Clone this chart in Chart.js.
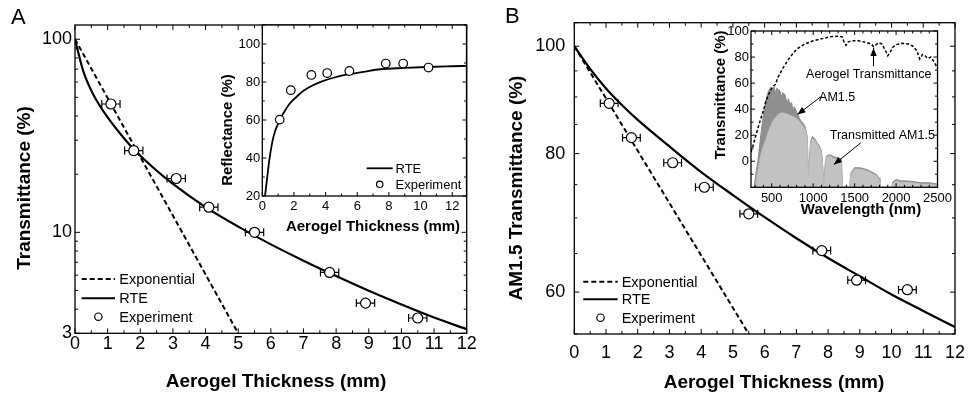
<!DOCTYPE html>
<html>
<head>
<meta charset="utf-8">
<script src="https://cdn.jsdelivr.net/npm/chart.js@4.4.1/dist/chart.umd.min.js"></script>
<style>
  html, body { margin: 0; padding: 0; background: #fff; }
  body { position: relative; width: 973px; height: 397px; overflow: hidden; font-family: "Liberation Sans", Arial, sans-serif; }
  canvas { position: absolute; }
  .letter { position: absolute; font-size: 22px; line-height: 22px; color: #000; }
</style>
</head>
<body>
<canvas id="mainA" width="486" height="397" style="left:0;top:0"></canvas>
<canvas id="mainB" width="487" height="397" style="left:486px;top:0"></canvas>
<canvas id="insetA" width="262" height="245" style="left:210px;top:0"></canvas>
<canvas id="insetB" width="255" height="225" style="left:700px;top:0"></canvas>
<div class="letter" style="left:11px;top:6px">A</div>
<div class="letter" style="left:505px;top:5px">B</div>
<script>
'use strict';

const FONT = '"Liberation Sans", Arial, sans-serif';

// measured samples (thickness in mm)
const thickness = [1.1, 1.8, 3.1, 4.1, 5.5, 7.8, 8.9, 10.5];
const thicknessErr = [0.28, 0.28, 0.28, 0.28, 0.28, 0.28, 0.28, 0.28];

// panel A: spectral transmittance (log axis)
const transA = [46.2, 26.5, 19.0, 13.5, 10.0, 6.2, 4.3, 3.6];
const rteAx = [0, 0.25, 0.5, 0.75, 1.0, 1.4, 1.8, 2.4, 3.0, 4.0, 5.0, 6.0, 7.0, 7.8, 9.0, 10.0, 11.0, 12.0];
const rteAy = [100, 68.7, 54.2, 45.5, 39.4, 32.2, 26.9, 21.6, 17.8, 13.5, 10.7, 8.66, 7.13, 6.15, 4.98, 4.23, 3.62, 3.15];
const expAx = [0, 5];
const expAy = [100, 3];

// panel A inset: reflectance
const reflY = [60.2, 75.7, 83.7, 84.7, 85.8, 89.7, 89.7, 87.6];
const rteReflX = [0.17, 0.3, 0.44, 0.7, 1.08, 1.4, 1.71, 2.2, 2.6, 3.2, 3.86, 4.6, 5.44, 6.5, 7.45, 9, 10.4, 12, 12.9];
const rteReflY = [20, 29, 38.8, 51, 59.7, 64.5, 68.4, 72.5, 75.4, 78.3, 80.6, 82.5, 84, 85.5, 86.7, 87.4, 87.9, 88.3, 88.5];

// panel B: AM1.5 transmittance (log axis)
const transB = [88.8, 82.7, 78.5, 74.6, 70.6, 65.4, 61.5, 60.3];
const rteBx = [0, 0.5, 1, 1.5, 2, 3, 4, 5, 6, 7, 8, 9, 10, 11, 12];
const rteBy = [100, 95.4, 91.6, 88.5, 85.8, 81.2, 77.0, 73.4, 70.1, 67.1, 64.4, 62.0, 59.7, 57.7, 55.8];
const expBx = [0, 5.5];
const expBy = [100, 55];

// panel B inset: spectra vs wavelength (nm)
const aeroWl = [250, 275, 300, 350, 400, 430, 460, 500, 544, 580, 640, 700, 760, 811, 900, 1000, 1100, 1200, 1300, 1350, 1375, 1395, 1420, 1460, 1550, 1650, 1700, 1730, 1760, 1790, 1830, 1870, 1900, 1930, 1960, 2000, 2070, 2150, 2200, 2250, 2285, 2320, 2350, 2380, 2420, 2460, 2500];
const aeroT = [7, 12, 18, 29, 39, 46, 51, 56, 59, 65, 72, 78, 83, 86.5, 90, 92.5, 94, 95.5, 96, 95.5, 91, 89, 91.5, 92.5, 92.5, 91, 90, 88, 89.5, 91, 90, 85, 81, 84, 87.5, 89.5, 90.5, 90, 88.5, 85, 78.5, 82, 81, 79, 80, 76, 71.5];

const am15Wl = [290, 300, 320, 335, 350, 372, 390, 410, 430, 450, 470, 490, 500, 510, 530, 545, 560, 580, 600, 615, 630, 660, 687, 700, 720, 740, 760, 770, 800, 820, 850, 880, 900, 915, 930, 940, 955, 970, 990, 1020, 1050, 1080, 1100, 1115, 1130, 1145, 1160, 1200, 1250, 1300, 1340, 1355, 1440, 1455, 1500, 1560, 1600, 1650, 1700, 1760, 1795, 1805, 1950, 1960, 2000, 2050, 2100, 2200, 2300, 2400, 2500];
const am15 = [-20, -14, -5, 1, 10, 22, 31, 40, 47, 52, 55, 57, 51, 56, 57, 52, 56, 55, 54, 49, 53, 51, 44, 48, 44, 45, 37, 42, 38, 35, 31, 29, 27, 23, 18, -12, 2, 15, 19, 17, 14, 11, 8, -4, -18, -2, 4, 5, 3.5, 2.5, 1.5, -20, -20, -9, -5, -5, -5.5, -6.5, -8, -10, -13, -20, -20, -16, -14, -15, -15, -15.5, -16.5, -16.5, -17.5];

const transAmWl = [300, 320, 340, 355, 380, 400, 430, 460, 487, 515, 544, 570, 600, 650, 700, 750, 800, 830, 860, 890, 915, 930, 940, 955, 970, 990, 1020, 1050, 1080, 1100, 1115, 1130, 1145, 1160, 1200, 1250, 1300, 1340, 1355, 1440, 1455, 1500, 1560, 1600, 1650, 1700, 1760, 1795, 1805, 1950, 1960, 2000, 2050, 2100, 2200, 2300, 2400, 2500];
const transAm = [-20, -12, -5, 1, 8, 12, 17, 23, 27, 31, 33.5, 35.5, 37, 37, 36, 34.5, 33, 31, 28.5, 26.5, 22, 17, -13, 1, 14, 17.5, 16, 13, 10, 7, -5, -19, -3, 3, 4, 2.5, 1.5, 0.5, -20, -20, -10, -6, -6, -6.5, -7.5, -9, -11, -14, -20, -20, -17, -15, -16, -16, -16.5, -17.5, -17.5, -18.5];

// tick values
const thickTicks = [0, 1, 2, 3, 4, 5, 6, 7, 8, 9, 10, 11, 12];
const thickMinor = [0.5, 1.5, 2.5, 3.5, 4.5, 5.5, 6.5, 7.5, 8.5, 9.5, 10.5, 11.5];
const transATicks = [3, 10, 100];
const transAMinor = [4, 5, 6, 7, 8, 9, 20, 30, 40, 50, 60, 70, 80, 90];
const transBTicks = [60, 80, 100];
const transBMinor = [55, 65, 70, 75, 85, 90, 95, 105];
const reflXTicks = [0, 2, 4, 6, 8, 10, 12];
const reflXMinor = [1, 3, 5, 7, 9, 11];
const reflYTicks = [20, 40, 60, 80, 100];
const reflYMinor = [30, 50, 70, 90, 110];
const wlTicks = [500, 1000, 1500, 2000, 2500];
const wlMinor = [300, 400, 600, 700, 800, 900, 1100, 1200, 1300, 1400, 1600, 1700, 1800, 1900, 2100, 2200, 2300, 2400];
const specTicks = [0, 20, 40, 60, 80, 100];
const specMinor = [-10, 10, 30, 50, 70, 90];

function pts(xs, ys) {
    return xs.map(function (v, i) { return {x: v, y: ys[i]}; });
}

function arrowTo(ctx, x0, y0, x1, y1) {
    let ang = Math.atan2(y1 - y0, x1 - x0);
    ctx.beginPath();
    ctx.moveTo(x0, y0);
    ctx.lineTo(x1, y1);
    ctx.stroke();
    ctx.beginPath();
    ctx.moveTo(x1, y1);
    ctx.lineTo(x1 - 8 * Math.cos(ang) + 3.2 * Math.sin(ang), y1 - 8 * Math.sin(ang) - 3.2 * Math.cos(ang));
    ctx.lineTo(x1 - 8 * Math.cos(ang) - 3.2 * Math.sin(ang), y1 - 8 * Math.sin(ang) + 3.2 * Math.cos(ang));
    ctx.closePath();
    ctx.fill();
}

// frame, inward ticks, error bars, legends, titles and notes
const deco = {
    id: 'deco',
    beforeDatasetsDraw: function (chart, args, o) {
        let ctx = chart.ctx, a = chart.chartArea, x = chart.scales.x, y = chart.scales.y;
        ctx.save();
        if (o.fill) {
            ctx.fillStyle = '#fff';
            ctx.fillRect(a.left, a.top, a.right - a.left, a.bottom - a.top);
        }
        if (o.err) {
            ctx.strokeStyle = '#000';
            ctx.lineWidth = 1.2;
            o.err.xs.forEach(function (xv, i) {
                let e = o.err.dx[i],
                    py = y.getPixelForValue(o.err.ys[i]),
                    p0 = x.getPixelForValue(xv - e),
                    p1 = x.getPixelForValue(xv + e);
                ctx.beginPath();
                ctx.moveTo(p0, py); ctx.lineTo(p1, py);
                ctx.moveTo(p0, py - 4); ctx.lineTo(p0, py + 4);
                ctx.moveTo(p1, py - 4); ctx.lineTo(p1, py + 4);
                ctx.stroke();
            });
        }
        ctx.restore();
    },
    afterDraw: function (chart, args, o) {
        let ctx = chart.ctx, a = chart.chartArea, x = chart.scales.x, y = chart.scales.y;
        ctx.save();
        ctx.strokeStyle = '#000';
        ctx.fillStyle = '#000';
        ctx.lineWidth = 1.3;
        ctx.strokeRect(a.left, a.top, a.right - a.left, a.bottom - a.top);

        ctx.lineWidth = 1;
        let xt = function (vals, len) {
            vals.forEach(function (v) {
                let p = x.getPixelForValue(v);
                if (p < a.left - 0.5 || p > a.right + 0.5) return;
                ctx.beginPath();
                ctx.moveTo(p, a.bottom); ctx.lineTo(p, a.bottom - len);
                ctx.moveTo(p, a.top); ctx.lineTo(p, a.top + len);
                ctx.stroke();
            });
        };
        let yt = function (vals, len) {
            vals.forEach(function (v) {
                let p = y.getPixelForValue(v);
                if (p < a.top - 0.5 || p > a.bottom + 0.5) return;
                ctx.beginPath();
                ctx.moveTo(a.left, p); ctx.lineTo(a.left + len, p);
                ctx.moveTo(a.right, p); ctx.lineTo(a.right - len, p);
                ctx.stroke();
            });
        };
        xt(o.ticks.x, o.ticks.major);
        xt(o.ticks.xm, o.ticks.minor);
        yt(o.ticks.y, o.ticks.major);
        yt(o.ticks.ym, o.ticks.minor);

        (o.titles || []).forEach(function (t) {
            ctx.save();
            ctx.font = 'bold ' + t.size + 'px ' + FONT;
            ctx.textAlign = 'center';
            ctx.textBaseline = 'middle';
            ctx.translate(t.x, t.y);
            if (t.rot) ctx.rotate(-Math.PI / 2);
            ctx.fillText(t.text, 0, 0);
            ctx.restore();
        });

        if (o.legend) {
            let L = o.legend;
            ctx.font = L.size + 'px ' + FONT;
            ctx.textAlign = 'left';
            ctx.textBaseline = 'middle';
            L.rows.forEach(function (r) {
                ctx.save();
                if (r.kind === 'dot') {
                    ctx.lineWidth = 1.2;
                    ctx.fillStyle = '#fff';
                    ctx.beginPath();
                    ctx.arc((L.x0 + L.x1) / 2, r.y, L.r, 0, Math.PI * 2);
                    ctx.fill();
                    ctx.stroke();
                } else {
                    ctx.lineWidth = L.lw;
                    if (r.kind === 'dash') ctx.setLineDash([5, 3]);
                    ctx.beginPath();
                    ctx.moveTo(L.x0, r.y); ctx.lineTo(L.x1, r.y);
                    ctx.stroke();
                }
                ctx.restore();
                ctx.fillText(r.text, L.tx, r.y + 1);
            });
        }

        if (o.notes) {
            ctx.font = o.notes.size + 'px ' + FONT;
            ctx.textAlign = 'center';
            ctx.textBaseline = 'middle';
            o.notes.texts.forEach(function (t) {
                ctx.fillText(t.text, x.getPixelForValue(t.x), y.getPixelForValue(t.y));
            });
            ctx.lineWidth = 1;
            o.notes.arrows.forEach(function (r) {
                arrowTo(ctx, x.getPixelForValue(r.x0), y.getPixelForValue(r.y0),
                    x.getPixelForValue(r.x1), y.getPixelForValue(r.y1));
            });
        }
        ctx.restore();
    }
};

function axis(type, min, max, labels, size, pad, fixed, horiz) {
    return {
        type: type,
        min: min,
        max: max,
        grid: {display: false, drawTicks: false},
        border: {display: false},
        ticks: {
            font: {family: FONT, size: size},
            color: '#000',
            padding: pad,
            autoSkip: false,
            maxRotation: 0,
            minRotation: 0,
            callback: function (v) { return String(v); }
        },
        afterBuildTicks: function (s) {
            s.ticks = labels.map(function (v) { return {value: v}; });
        },
        afterFit: function (s) {
            if (horiz) s.height = fixed; else s.width = fixed;
        }
    };
}

function line(data, width, dash, mono) {
    return {
        data: data,
        borderColor: '#000',
        borderWidth: width,
        borderDash: dash,
        pointRadius: 0,
        fill: false,
        cubicInterpolationMode: mono ? 'monotone' : 'default'
    };
}

function dots(data, r) {
    return {
        data: data,
        showLine: false,
        pointRadius: r,
        pointBackgroundColor: '#fff',
        pointBorderColor: '#000',
        pointBorderWidth: 1.2
    };
}

function base(datasets, scales, pad, decoOpts) {
    return {
        type: 'line',
        data: {datasets: datasets},
        options: {
            responsive: false,
            animation: false,
            events: [],
            layout: {padding: pad},
            scales: scales,
            plugins: {legend: {display: false}, tooltip: {enabled: false}, deco: decoOpts}
        },
        plugins: [deco]
    };
}

// Panel A
new Chart(document.getElementById('mainA'), base(
    [dots(pts(thickness, transA), 5),
     line(pts(rteAx, rteAy), 2.2, [], true),
     line(pts(expAx, expAy), 2, [5, 3], false)],
    {
        x: axis('linear', 0, 12, thickTicks, 18, 0, 63.7, true),
        y: axis('logarithmic', 3, 118.5, transATicks, 18, 3, 75, false)
    },
    {left: 0, top: 25, right: 19.3, bottom: 0},
    {
        ticks: {x: thickTicks, xm: thickMinor, y: transATicks, ym: transAMinor, major: 5, minor: 3},
        err: {xs: thickness, ys: transA, dx: thicknessErr},
        titles: [
            {text: 'Aerogel Thickness (mm)', x: 276, y: 382, size: 19},
            {text: 'Transmittance (%)', x: 25, y: 188, size: 19, rot: true}
        ],
        legend: {x0: 81.7, x1: 115, tx: 119.3, size: 14.5, lw: 2, r: 3.7, rows: [
            {kind: 'dash', y: 279, text: 'Exponential'},
            {kind: 'line', y: 298.3, text: 'RTE'},
            {kind: 'dot', y: 316.7, text: 'Experiment'}
        ]}
    }
));

// Panel A inset
new Chart(document.getElementById('insetA'), base(
    [dots(pts(thickness, reflY), 4.3),
     line(pts(rteReflX, rteReflY), 1.8, [], true)],
    {
        x: axis('linear', 0, 12.9, reflXTicks, 13, 3, 49, true),
        y: axis('linear', 20, 110, reflYTicks, 13, 2, 52.3, false)
    },
    {left: 0, top: 25, right: 5.3, bottom: 0},
    {
        fill: true,
        ticks: {x: reflXTicks, xm: reflXMinor, y: reflYTicks, ym: reflYMinor, major: 4, minor: 2.5},
        titles: [
            {text: 'Aerogel Thickness (mm)', x: 163, y: 227, size: 15},
            {text: 'Reflectance (%)', x: 18, y: 130, size: 15, rot: true}
        ],
        legend: {x0: 156.7, x1: 182.7, tx: 185.5, size: 13, lw: 1.8, r: 3.2, rows: [
            {kind: 'line', y: 168.3, text: 'RTE'},
            {kind: 'dot', y: 184.3, text: 'Experiment'}
        ]}
    }
));

// Panel B
new Chart(document.getElementById('mainB'), base(
    [dots(pts(thickness, transB), 5),
     line(pts(rteBx, rteBy), 2.2, [], true),
     line(pts(expBx, expBy), 2, [5, 3], false)],
    {
        x: axis('linear', 0, 12, thickTicks, 18, 8, 63, true),
        y: axis('logarithmic', 55, 105, transBTicks, 18, 9, 88.3, false)
    },
    {left: 0, top: 22.7, right: 12, bottom: 0},
    {
        ticks: {x: thickTicks, xm: thickMinor, y: transBTicks, ym: transBMinor, major: 5, minor: 3},
        err: {xs: thickness, ys: transB, dx: thicknessErr},
        titles: [
            {text: 'Aerogel Thickness (mm)', x: 288, y: 383, size: 19},
            {text: 'AM1.5 Transmittance (%)', x: 30.7, y: 188, size: 19, rot: true}
        ],
        legend: {x0: 97.3, x1: 131.7, tx: 135.7, size: 14.5, lw: 2, r: 3.7, rows: [
            {kind: 'dash', y: 281.7, text: 'Exponential'},
            {kind: 'line', y: 299.3, text: 'RTE'},
            {kind: 'dot', y: 317.7, text: 'Experiment'}
        ]}
    }
));

// Panel B inset
let specSets = [
    line(pts(aeroWl, aeroT), 1.5, [3, 2], false),
    {data: pts(transAmWl, transAm), borderColor: '#bdbdbd', backgroundColor: '#c2c2c2', borderWidth: 0.8, pointRadius: 0, fill: 'start'},
    {data: pts(am15Wl, am15), borderColor: '#8a8a8a', backgroundColor: '#8f8f8f', borderWidth: 1, pointRadius: 0, fill: 'start'}
];
specSets[0].order = 0;
specSets[1].order = 1;
specSets[2].order = 2;

new Chart(document.getElementById('insetB'), base(
    specSets,
    {
        x: axis('linear', 250, 2500, wlTicks, 13, 3, 37.7, true),
        y: axis('linear', -20, 100, specTicks, 13, 2, 51, false)
    },
    {left: 0, top: 31, right: 7.7, bottom: 0},
    {
        fill: true,
        ticks: {x: wlTicks, xm: wlMinor, y: specTicks, ym: specMinor, major: 4, minor: 2.5},
        titles: [
            {text: 'Wavelength (nm)', x: 161, y: 210, size: 15},
            {text: 'Transmittance (%)', x: 21, y: 95, size: 15, rot: true}
        ],
        notes: {size: 12.5, texts: [
            {text: 'Aerogel Transmittance', x: 1670, y: 66.7},
            {text: 'AM1.5', x: 1289, y: 48.8},
            {text: 'Transmitted AM1.5', x: 1834, y: 19.8}
        ], arrows: [
            {x0: 1728, y0: 73, x1: 1728, y1: 87},
            {x0: 1098, y0: 49.8, x1: 811, y1: 35.9},
            {x0: 1575, y0: 14.2, x1: 1250, y1: -2.5}
        ]}
    }
));
</script>
</body>
</html>
